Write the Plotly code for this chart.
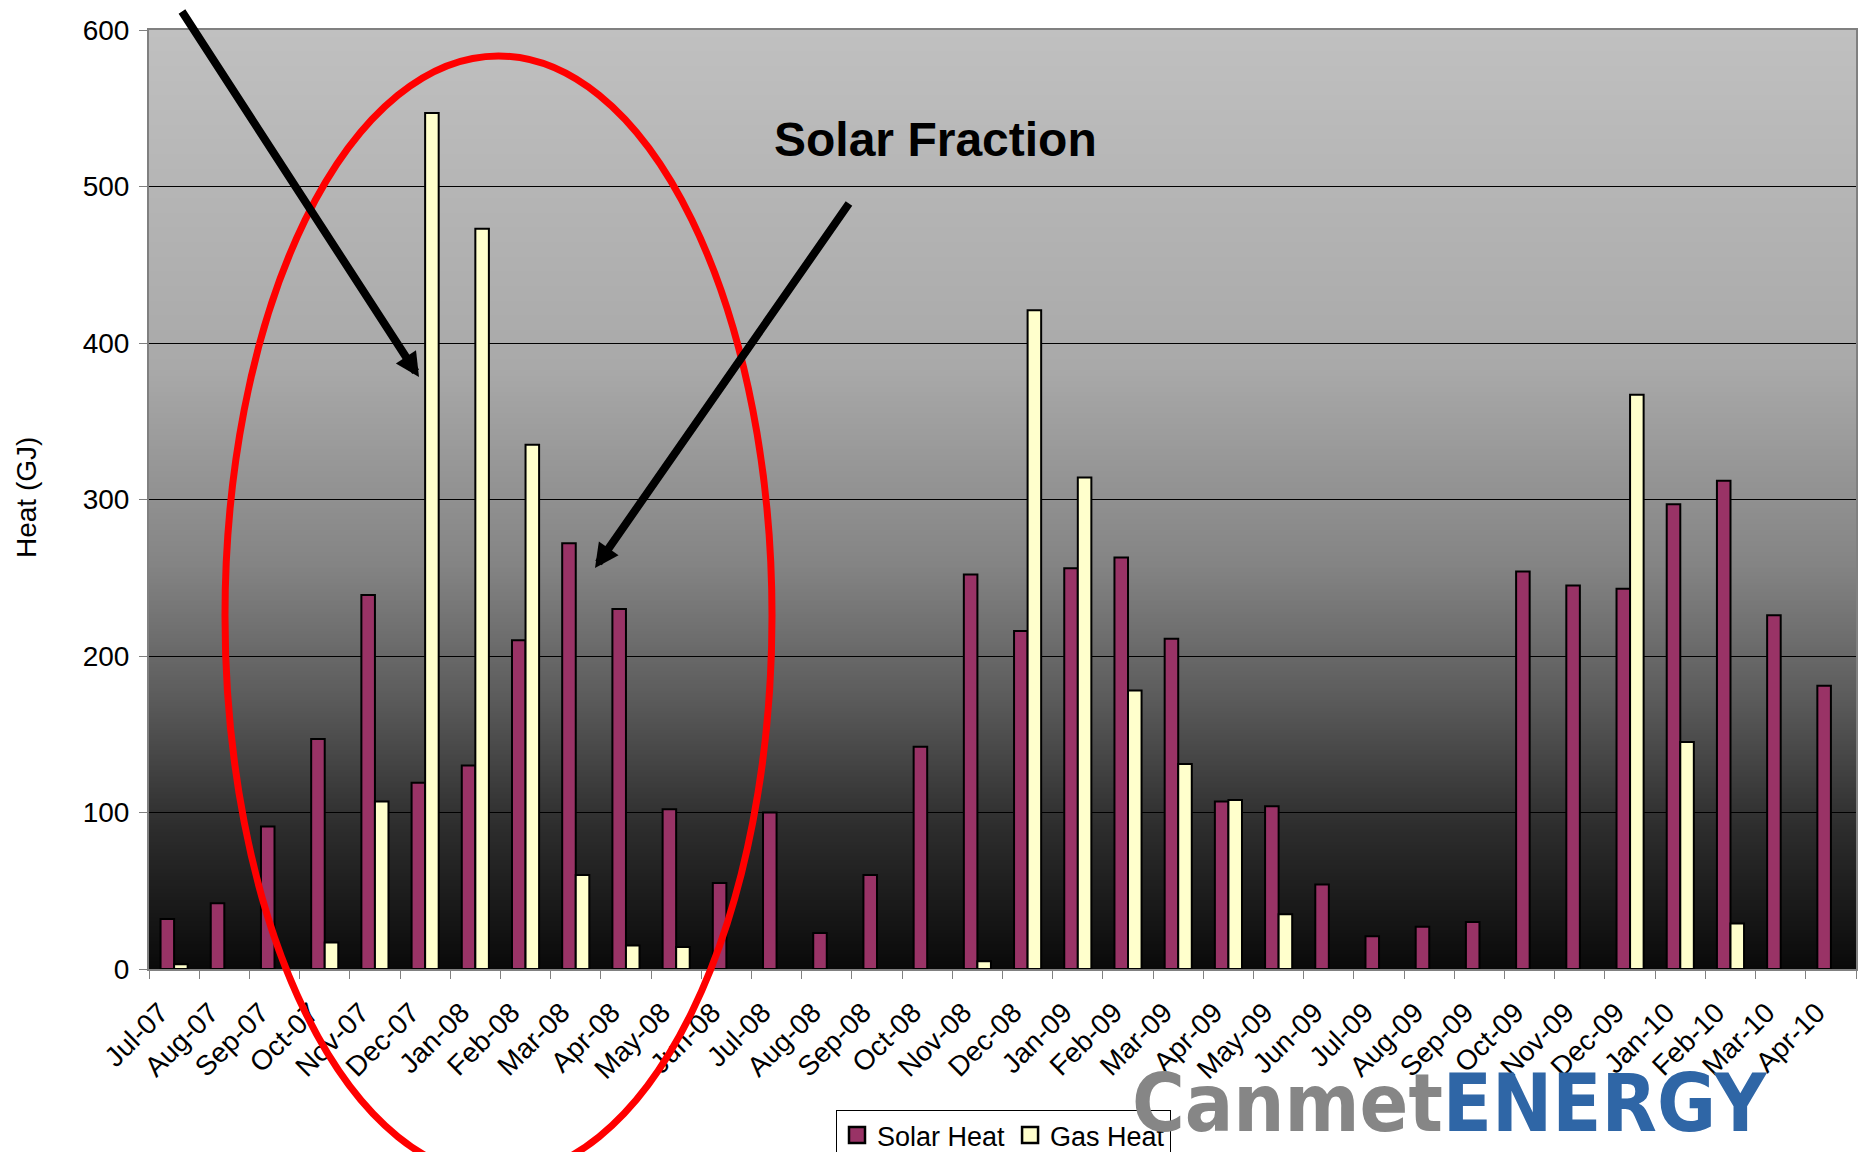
import base64
import struct
import zlib

import plotly.graph_objects as go

# ---------------- data ----------------
months = ["Jul-07", "Aug-07", "Sep-07", "Oct-07", "Nov-07", "Dec-07", "Jan-08", "Feb-08",
          "Mar-08", "Apr-08", "May-08", "Jun-08", "Jul-08", "Aug-08", "Sep-08", "Oct-08",
          "Nov-08", "Dec-08", "Jan-09", "Feb-09", "Mar-09", "Apr-09", "May-09", "Jun-09",
          "Jul-09", "Aug-09", "Sep-09", "Oct-09", "Nov-09", "Dec-09", "Jan-10", "Feb-10",
          "Mar-10", "Apr-10"]
solar_heat = [32, 42, 91, 147, 239, 119, 130, 210, 272, 230, 102, 55, 100, 23, 60, 142,
              252, 216, 256, 263, 211, 107, 104, 54, 21, 27, 30, 254, 245, 243, 297, 312,
              226, 181]
gas_heat = [3, None, None, 17, 107, 547, 473, 335, 60, 15, 14, None, None, None, None, None,
            5, 421, 314, 178, 131, 108, 35, None, None, None, None, None, None, 367, 145, 29,
            None, None]
y_ticks = [0, 100, 200, 300, 400, 500, 600]

SOLAR_COLOR = "#993366"
GAS_COLOR = "#FFFFCC"

# ---------------- geometry ----------------
W, H = 1859, 1152
ML, MR, MT, MB = 149, 3, 30, 183
PW, PH = W - ML - MR, H - MT - MB


def px(x):
    return (x - ML) / PW


def py(y):
    return (H - MB - y) / PH


FONT = "Arial, 'Liberation Sans', sans-serif"

# vertical grey-to-black gradient for the plot background
grad_stops = [(0.0, 192), (0.36, 169), (0.57, 132), (0.71, 92), (0.85, 45), (1.0, 10)]


def gradient_png(stops, height=512):
    rows = []
    for i in range(height):
        t = i / (height - 1)
        g = stops[-1][1]
        for (t0, g0), (t1, g1) in zip(stops, stops[1:]):
            if t0 <= t <= t1:
                g = g0 + (g1 - g0) * (t - t0) / (t1 - t0)
                break
        v = int(round(g))
        rows.append(b"\x00" + bytes([v, v, v] * 2))
    raw = b"".join(rows)

    def chunk(tag, data):
        return (struct.pack(">I", len(data)) + tag + data
                + struct.pack(">I", zlib.crc32(tag + data) & 0xFFFFFFFF))

    png = (b"\x89PNG\r\n\x1a\n"
           + chunk(b"IHDR", struct.pack(">IIBBBBB", 2, height, 8, 2, 0, 0, 0))
           + chunk(b"IDAT", zlib.compress(raw, 9))
           + chunk(b"IEND", b""))
    return "data:image/png;base64," + base64.b64encode(png).decode()


fig = go.Figure()
fig.add_trace(go.Bar(x=months, y=solar_heat, name="Solar Heat", showlegend=False,
                     legendgroup="solar",
                     marker=dict(color=SOLAR_COLOR, line=dict(color="#000000", width=2))))
fig.add_trace(go.Bar(x=months, y=gas_heat, name="Gas Heat", showlegend=False,
                     legendgroup="gas",
                     marker=dict(color=GAS_COLOR, line=dict(color="#000000", width=2))))
# legend entries with larger square swatches (Excel style)
for nm, col, grp in [("Solar Heat", SOLAR_COLOR, "solar"), ("Gas Heat", GAS_COLOR, "gas")]:
    fig.add_trace(go.Scatter(x=[None], y=[None], mode="markers", name=nm, legendgroup=grp,
                             marker=dict(symbol="square", size=16, color=col,
                                         line=dict(color="#000000", width=2.5)),
                             hoverinfo="skip"))

fig.update_layout(
    width=W, height=H,
    margin=dict(l=ML, r=MR, t=MT, b=MB, autoexpand=False),
    template="none",
    paper_bgcolor="#FFFFFF",
    plot_bgcolor="rgba(0,0,0,0)",
    barmode="group", bargap=0.46, bargroupgap=0.0,
    font=dict(family=FONT, size=27, color="#000000"),
    showlegend=True,
    legend=dict(orientation="h", x=px(836), y=py(1110), xanchor="left", yanchor="top",
                bgcolor="#FFFFFF", bordercolor="#000000", borderwidth=1,
                font=dict(family=FONT, size=27, color="#000000"),
                traceorder="normal", itemclick=False, itemwidth=30,
                itemsizing="trace", tracegroupgap=0),
    images=[dict(source=gradient_png(grad_stops), xref="paper", yref="paper",
                 x=0, y=1, sizex=1, sizey=1, xanchor="left", yanchor="top",
                 sizing="stretch", layer="below")],
)

fig.update_xaxes(type="category", categoryorder="array", categoryarray=months,
                 tickangle=-45, tickson="boundaries", ticks="outside", ticklen=8,
                 tickwidth=1, tickcolor="#808080",
                 showline=True, linecolor="#808080", linewidth=2, mirror=True,
                 showgrid=False, zeroline=False,
                 ticklabelstandoff=14, ticklabelshift=-14,
                 tickfont=dict(family=FONT, size=28, color="#000000"))
fig.update_yaxes(range=[0, 600], tickvals=y_ticks, ticks="outside", ticklen=8,
                 tickwidth=1, tickcolor="#808080",
                 showline=True, linecolor="#808080", linewidth=2, mirror=True,
                 showgrid=True, gridcolor="#000000", gridwidth=1, zeroline=False,
                 tickfont=dict(family=FONT, size=28, color="#000000"),
                 ticklabelstandoff=4)

# red ellipse
fig.add_shape(type="circle", xref="paper", yref="paper",
              x0=px(225), x1=px(772), y0=py(1176), y1=py(56),
              line=dict(color="#FF0000", width=7), fillcolor="rgba(0,0,0,0)",
              layer="above")

annotations = [
    dict(text="<span style='color:#868686'>Canmet</span>"
              "<span style='color:#2F66A6'>ENERGY</span>",
         xref="paper", yref="paper", x=px(1449), y=py(1103),
         xanchor="center", yanchor="middle", showarrow=False,
         font=dict(family="'Liberation Sans Narrow', 'DejaVu Sans Condensed', 'Arial Narrow', sans-serif",
                   size=80, weight="bold")),
    dict(text="Heat (GJ)", textangle=-90, xref="paper", yref="paper",
         x=px(26), y=py(498), xanchor="center", yanchor="middle", showarrow=False,
         font=dict(family=FONT, size=28, color="#000000")),
    dict(text="<b>Solar Fraction</b>", xref="paper", yref="paper",
         x=px(935), y=py(139), xanchor="center", yanchor="middle", showarrow=False,
         font=dict(family=FONT, size=48, color="#000000")),
    dict(text="", xref="paper", yref="paper", x=px(419), y=py(377),
         axref="pixel", ayref="pixel", ax=181 - 419, ay=10 - 377,
         showarrow=True, arrowhead=2, arrowsize=0.6, arrowwidth=8,
         arrowcolor="#000000", standoff=0),
    dict(text="", xref="paper", yref="paper", x=px(595), y=py(568),
         axref="pixel", ayref="pixel", ax=850 - 595, ay=202 - 568,
         showarrow=True, arrowhead=2, arrowsize=0.6, arrowwidth=8,
         arrowcolor="#000000", standoff=0),
]
fig.update_layout(annotations=annotations)

fig.write_html("out.html", config={"displayModeBar": False},
               post_script="document.body.style.margin='0';document.body.style.overflow='hidden';")
